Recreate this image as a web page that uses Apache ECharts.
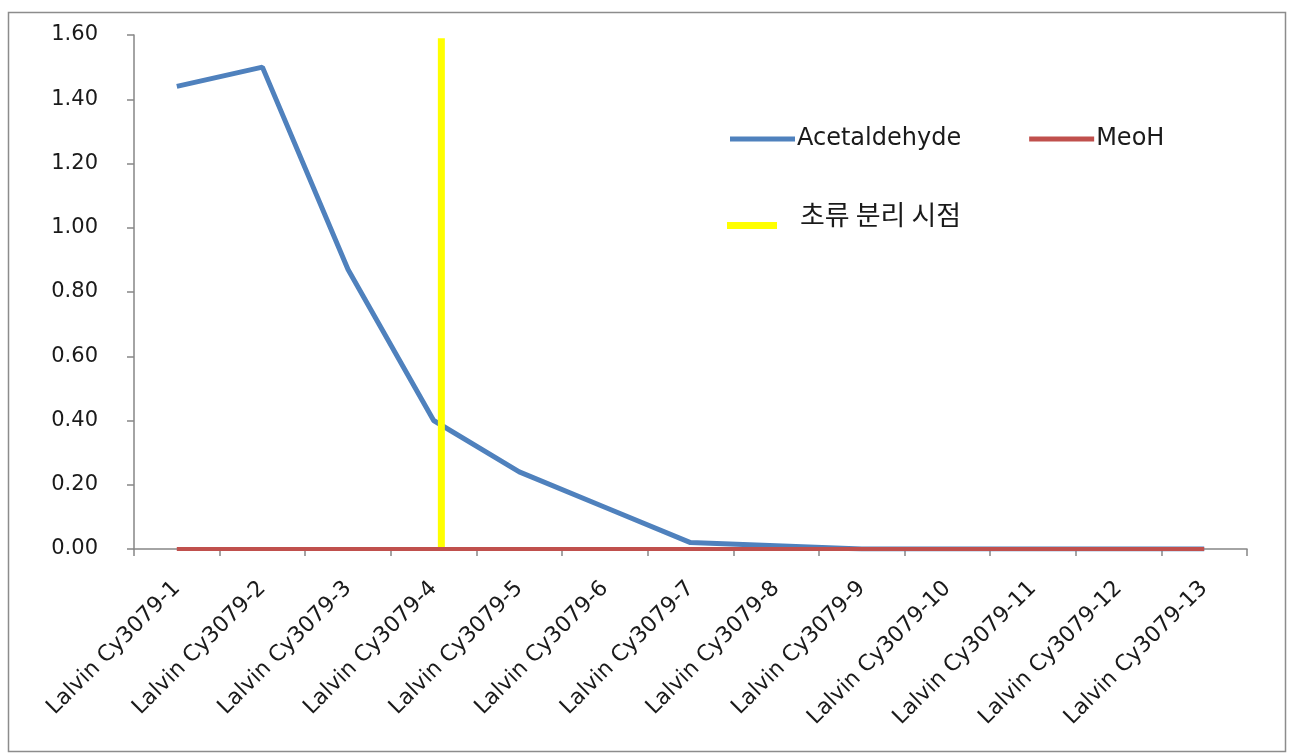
<!DOCTYPE html>
<html>
<head>
<meta charset="utf-8">
<script src="https://cdn.jsdelivr.net/npm/echarts@6/dist/echarts.min.js"></script>
<style>
  html, body { margin: 0; padding: 0; background: #fff; }
  #chart { width: 1293px; height: 755px; }
</style>
</head>
<body>
<div id="chart"></div>
<script>
// Sample names along the x axis
const categories = [
  'Lalvin Cy3079-1', 'Lalvin Cy3079-2', 'Lalvin Cy3079-3', 'Lalvin Cy3079-4',
  'Lalvin Cy3079-5', 'Lalvin Cy3079-6', 'Lalvin Cy3079-7', 'Lalvin Cy3079-8',
  'Lalvin Cy3079-9', 'Lalvin Cy3079-10', 'Lalvin Cy3079-11', 'Lalvin Cy3079-12',
  'Lalvin Cy3079-13'
];
// Measured concentrations
const acetaldehyde = [1.44, 1.50, 0.87, 0.40, 0.24, 0.13, 0.02, 0.01, 0.00, 0.00, 0.00, 0.00, 0.00];
const meoh = [0, 0, 0, 0, 0, 0, 0, 0, 0, 0, 0, 0, 0];
// Head-cut point (position in category index units) and its vertical extent
const splitAt = [3.09, 3.09];
const splitRange = [0, 1.59];
// Y axis ticks
const yTicks = { min: 0, max: 1.6, interval: 0.2 };

const FONT = "'DejaVu Sans', sans-serif";
// Legend swatch sitting low in its box: an empty point at the top keeps the box height
const LOW_BAR_ICON = 'path://M0,0L0.01,0L0,0.01Z M0,22L50,22L50,29L0,29Z';

const chart = echarts.init(document.getElementById('chart'), null, { renderer: 'canvas' });

chart.setOption({
  backgroundColor: '#ffffff',
  animation: false,
  grid: { left: 134, right: 46, top: 35, bottom: 206, containLabel: false },
  graphic: [{
    type: 'rect',
    shape: { x: 8.5, y: 12.5, width: 1277, height: 739 },
    style: { fill: 'none', stroke: '#8c8c8c', lineWidth: 1.5 },
    silent: true
  }],
  legend: [{
    data: ['Acetaldehyde', 'MeoH'],
    left: 725, top: 122,
    padding: 5,
    icon: 'rect', itemWidth: 65, itemHeight: 5, itemGap: 68,
    textStyle: { fontFamily: FONT, fontSize: 24, color: '#1a1a1a', padding: [0, 0, 0, -3] }
  }, {
    data: ['초류 분리 시점'],
    left: 722, top: 195,
    padding: 5,
    icon: LOW_BAR_ICON, itemWidth: 50, itemHeight: 29,
    textStyle: { fontFamily: "'Noto Sans CJK KR', sans-serif", fontSize: 27, color: '#1a1a1a', padding: [0, 0, 0, 18] }
  }],
  xAxis: [{
    type: 'category',
    data: categories,
    boundaryGap: true,
    axisLine: { lineStyle: { color: '#868686', width: 1.5 } },
    axisTick: { show: true, length: 7, alignWithLabel: false, lineStyle: { color: '#868686', width: 1.5 } },
    axisLabel: { rotate: 45, margin: 36, interval: 0, fontFamily: FONT, fontSize: 22, color: '#1a1a1a' },
    splitLine: { show: false }
  }, {
    type: 'value',
    min: -0.5, max: 12.5,
    show: false
  }],
  yAxis: {
    type: 'value',
    min: yTicks.min, max: yTicks.max, interval: yTicks.interval,
    axisLine: { show: true, onZero: false, lineStyle: { color: '#868686', width: 1.5 } },
    axisTick: { show: true, length: 7, lineStyle: { color: '#868686', width: 1.5 } },
    axisLabel: { margin: 36, fontFamily: FONT, fontSize: 21, color: '#1a1a1a',
      formatter: v => v.toFixed(2) },
    splitLine: { show: false }
  },
  series: [{
    name: 'Acetaldehyde',
    type: 'line',
    data: acetaldehyde,
    symbol: 'none',
    z: 2,
    itemStyle: { color: '#4F81BD' },
    lineStyle: { color: '#4F81BD', width: 5 }
  }, {
    name: '초류 분리 시점',
    type: 'line',
    xAxisIndex: 1,
    data: [[splitAt[0], splitRange[0]], [splitAt[1], splitRange[1]]],
    symbol: 'none',
    z: 3,
    itemStyle: { color: '#FFFF00' },
    lineStyle: { color: '#FFFF00', width: 7 }
  }, {
    name: 'MeoH',
    type: 'line',
    data: meoh,
    symbol: 'none',
    z: 4,
    itemStyle: { color: '#C0504D' },
    lineStyle: { color: '#C0504D', width: 4 }
  }]
});
</script>
</body>
</html>
